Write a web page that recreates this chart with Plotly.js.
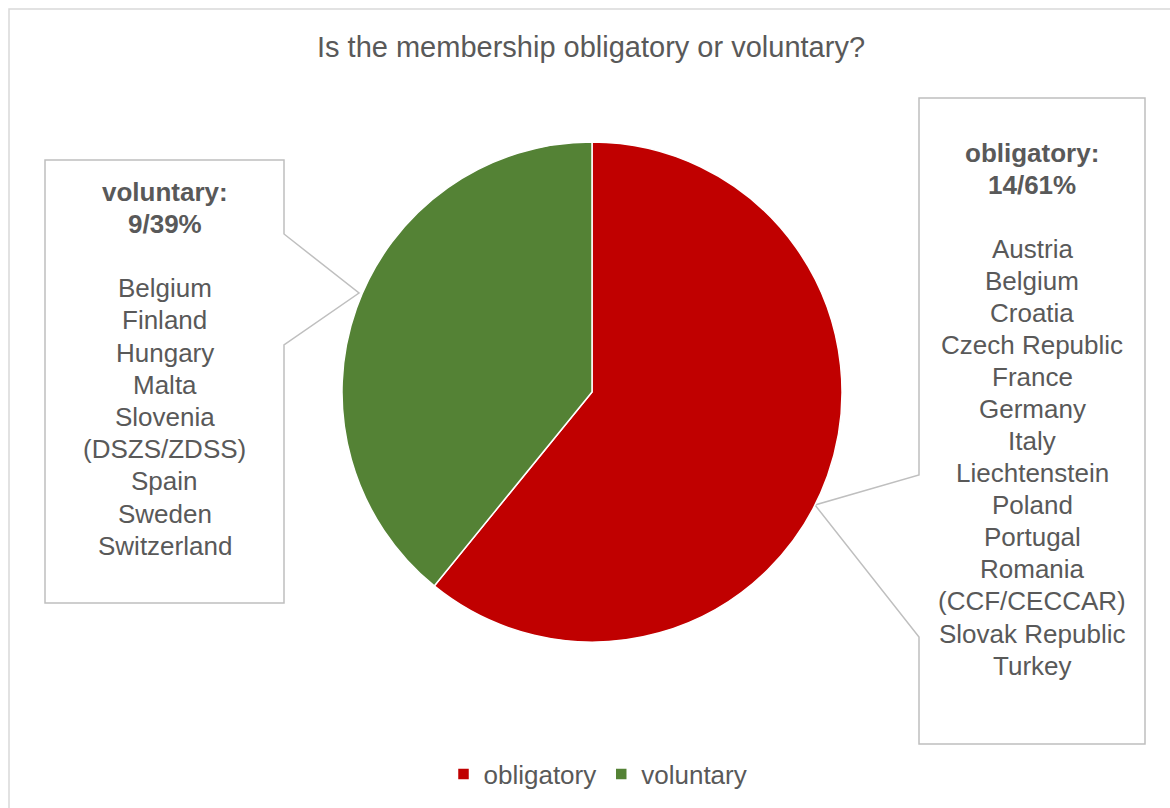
<!DOCTYPE html>
<html>
<head>
<meta charset="utf-8">
<script src="https://cdn.plot.ly/plotly-3.0.1.min.js"></script>
<style>html,body{margin:0;padding:0;background:#fff;}#chart{width:1170px;height:808px;}</style>
</head>
<body>
<div id="chart"></div>
<script>
// ---- data ----
const categories = ["obligatory", "voluntary"];
const counts = [14, 9];
const colors = ["#C00000", "#548235"];
const obligatoryCountries = ["Austria", "Belgium", "Croatia", "Czech Republic", "France", "Germany", "Italy", "Liechtenstein", "Poland", "Portugal", "Romania", "(CCF/CECCAR)", "Slovak Republic", "Turkey"];
const voluntaryCountries = ["Belgium", "Finland", "Hungary", "Malta", "Slovenia", "(DSZS/ZDSS)", "Spain", "Sweden", "Switzerland"];
const chartTitle = "Is the membership obligatory or voluntary?";

// ---- layout helpers (figure pixels -> paper, margins are zero) ----
const W = 1170, H = 808;
const px = x => x / W;
const py = y => 1 - y / H;
const FONT = "Liberation Sans, Arial, sans-serif";
const TXT = "#595959";
const total = counts.reduce((a, b) => a + b, 0);
const pct = counts.map(c => Math.round(c / total * 100));

function boxLines(idx, list) {
  return ["<b>" + categories[idx] + ":</b>", "<b>" + counts[idx] + "/" + pct[idx] + "%</b>", ""].concat(list);
}

const annotations = [];
function addBlock(lines, cx, y0, step) {
  lines.forEach((t, i) => {
    if (!t) return;
    annotations.push({
      xref: "paper", yref: "paper", x: px(cx), y: py(y0 + i * step),
      xanchor: "center", yanchor: "middle", showarrow: false,
      text: t, font: {family: FONT, size: 26, color: TXT}
    });
  });
}
addBlock(boxLines(1, voluntaryCountries), 164.5, 191.5, 32.2);
addBlock(boxLines(0, obligatoryCountries), 1032, 152.5, 32.07);

function pathFrom(pts) {
  return "M" + pts.map(p => px(p[0]) + "," + py(p[1])).join(" L") + " Z";
}
const lineStyle = {color: "#BFBFBF", width: 1.5};
const shapes = [
  {type: "rect", xref: "paper", yref: "paper", x0: px(9), y0: py(9), x1: px(1185), y1: py(825),
   line: {color: "#D9D9D9", width: 1.5}, fillcolor: "rgba(0,0,0,0)", layer: "below"},
  {type: "path", xref: "paper", yref: "paper", layer: "below", fillcolor: "#FFFFFF", line: lineStyle,
   path: pathFrom([[45, 160], [284, 160], [284, 234], [359, 293], [284, 345], [284, 603], [45, 603]])},
  {type: "path", xref: "paper", yref: "paper", layer: "below", fillcolor: "#FFFFFF", line: lineStyle,
   path: pathFrom([[919, 98], [1145, 98], [1145, 744], [919, 744], [919, 637], [815, 505], [919, 475]])}
];

const trace = {
  type: "pie",
  labels: categories,
  values: counts,
  marker: {colors: colors, line: {color: "#FFFFFF", width: 1.5}},
  sort: false,
  direction: "clockwise",
  rotation: 0,
  textinfo: "none",
  hoverinfo: "label+value+percent",
  domain: {x: [px(342), px(842)], y: [py(642), py(142)]}
};

const layout = {
  width: W, height: H,
  margin: {l: 0, r: 0, t: 0, b: 0},
  paper_bgcolor: "#FFFFFF",
  font: {family: FONT, color: TXT},
  title: {text: chartTitle, x: px(591), y: py(47), xanchor: "center", yanchor: "middle",
          xref: "paper", yref: "paper", font: {family: FONT, size: 29, color: TXT}},
  showlegend: true,
  legend: {orientation: "h", x: px(598), xanchor: "center", y: py(774), yanchor: "middle",
           font: {family: FONT, size: 26, color: TXT}, itemwidth: 30, tracegroupgap: 0},
  annotations: annotations,
  shapes: shapes
};

Plotly.newPlot("chart", [trace], layout, {displayModeBar: false, staticPlot: true});
</script>
</body>
</html>
